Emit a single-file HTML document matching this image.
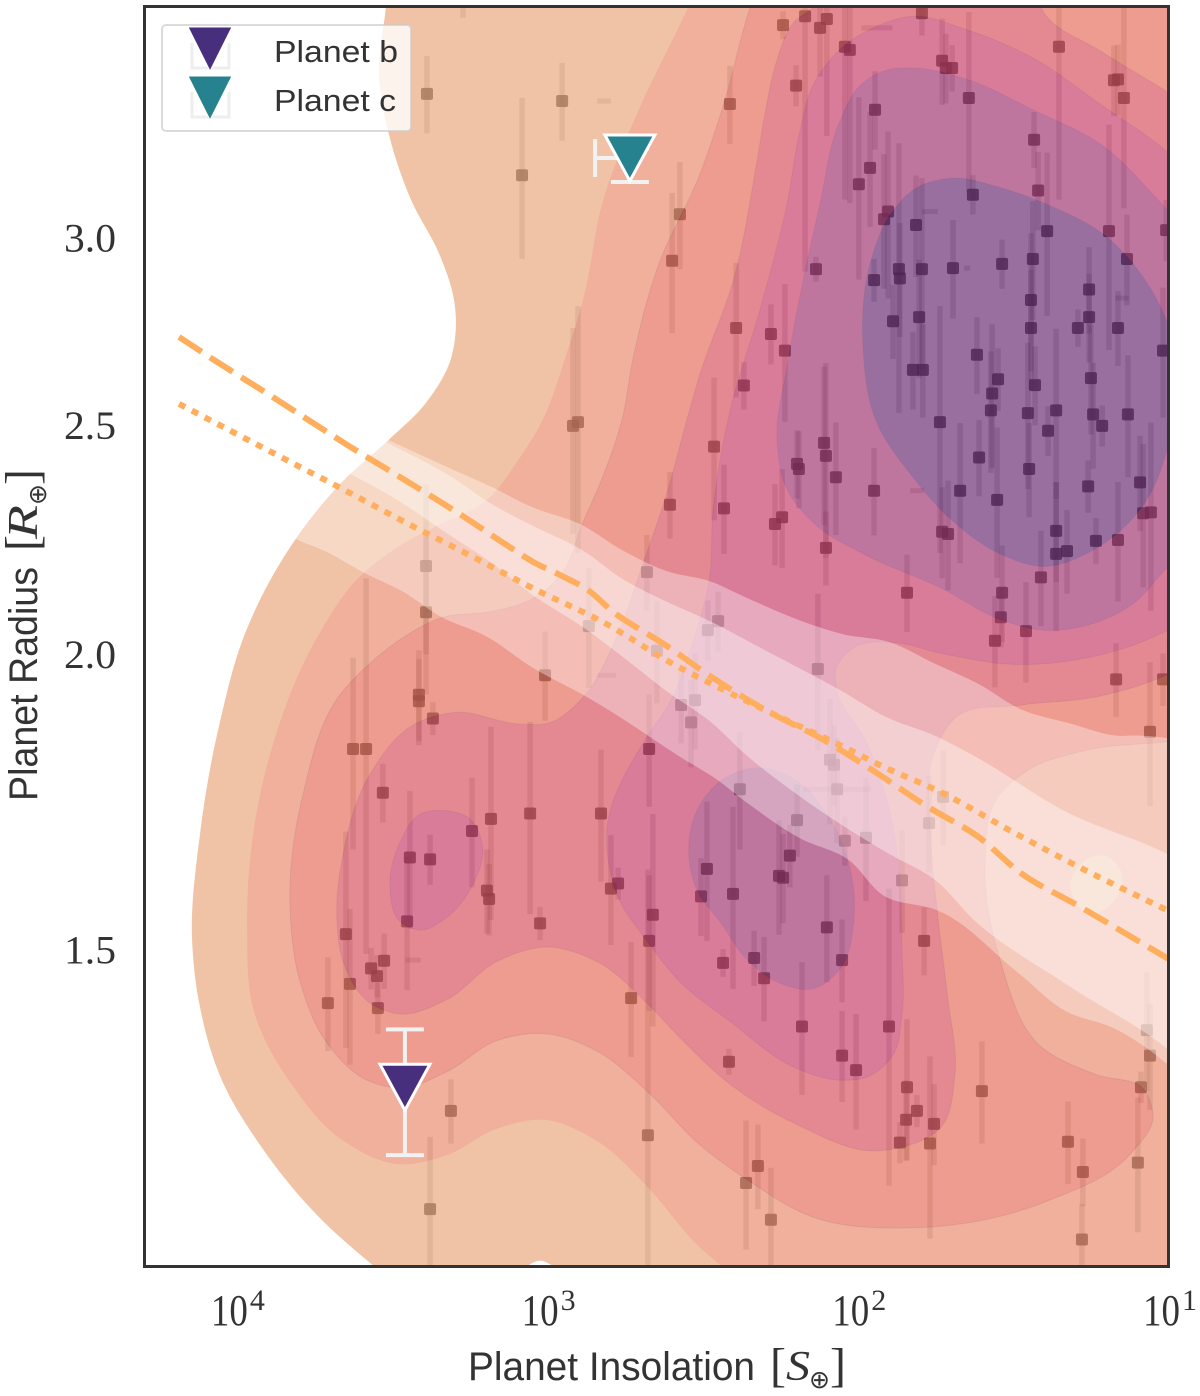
<!DOCTYPE html>
<html lang="en">
<head>
<meta charset="utf-8">
<title>Planet radius vs insolation</title>
<style>
html,body{margin:0;padding:0;background:#fff;width:1200px;height:1396px;overflow:hidden;}
svg{display:block;}
text{fill:#333;}
.sans{font-family:"Liberation Sans",sans-serif;}
.serif{font-family:"Liberation Serif",serif;}
</style>
</head>
<body>
<svg id="chart" width="1200" height="1396" viewBox="0 0 1200 1396" xmlns="http://www.w3.org/2000/svg">
  <defs>
    <clipPath id="plot-clip"><rect x="144" y="6" width="1025" height="1261"></rect></clipPath>
  </defs>
  <g id="plot" clip-path="url(#plot-clip)">
    <g id="samples"></g>
    <g id="density" opacity="0.7"></g>
    <g id="notches"></g>
    <g id="bands"></g>
    <g id="lines"></g>
    <g id="planets"></g>
  </g>
  <rect x="144.5" y="6.5" width="1024" height="1260" fill="none" stroke="#333" stroke-width="3"></rect>
  <g id="xticks"></g>
  <g id="yticks"></g>

  <g>
    <text class="sans" x="468" y="1380" font-size="40" textLength="287" lengthAdjust="spacingAndGlyphs">Planet Insolation</text>
    <text class="serif" x="770" y="1381" font-size="48">[</text>
    <text class="serif" x="786" y="1380" font-size="42" font-style="italic" textLength="24" lengthAdjust="spacingAndGlyphs">S</text>
    <text x="809" y="1388" font-size="25" font-family="'DejaVu Sans',sans-serif">⊕</text>
    <text class="serif" x="830" y="1381" font-size="48">]</text>
  </g>
  <g transform="translate(37,801) rotate(-90)">
    <text class="sans" x="0" y="0" font-size="40" textLength="234" lengthAdjust="spacingAndGlyphs">Planet Radius</text>
    <text class="serif" x="250" y="1" font-size="48">[</text>
    <text class="serif" x="262" y="0" font-size="42" font-style="italic" textLength="34" lengthAdjust="spacingAndGlyphs">R</text>
    <text x="296" y="9" font-size="25" font-family="'DejaVu Sans',sans-serif">⊕</text>
    <text class="serif" x="316" y="1" font-size="48">]</text>
  </g>

  <g>
    <rect x="162" y="25" width="249" height="106" rx="4" fill="#fff" fill-opacity="0.8" stroke="#ccc" stroke-opacity="0.7" stroke-width="2"></rect>
    <g>
      <path d="M192 43V68H229V43" fill="none" stroke="#eee" stroke-width="3"></path>
      <polygon points="188,27 232,27 210,71" fill="#472f7d" stroke="#fff" stroke-width="1"></polygon>
      <text class="sans" x="274" y="62" font-size="31" textLength="124" lengthAdjust="spacingAndGlyphs">Planet b</text>
    </g>
    <g>
      <path d="M192 92V117H229V92" fill="none" stroke="#eee" stroke-width="3"></path>
      <polygon points="188,76 232,76 210,120" fill="#26828e" stroke="#fff" stroke-width="1"></polygon>
      <text class="sans" x="274" y="111" font-size="31" textLength="122" lengthAdjust="spacingAndGlyphs">Planet c</text>
    </g>
  </g>
</svg>

<script>
// ---- tick labels ----
const xTickExponents = [4, 3, 2, 1];
const yTickValues = [1.5, 2.0, 2.5, 3.0];

// ---- sample planets: [log10 insolation, radius, radius error] ----
const samplePlanets = [
[2.239,3.693,.05],[2.168,3.725,.82],[2.120,3.683,.17],[2.098,3.715,.40],[2.040,3.616,.50],[2.024,3.605,.50],
[1.792,3.736,.08],[1.727,3.567,.15],[1.695,3.542,.08],[1.715,3.542,.12],[1.351,3.616,.50],[1.174,3.500,.12],
[1.161,3.503,.12],[1.142,3.440,.35],[2.410,3.42,.13],[2.197,3.482,.07],[1.943,3.401,.13],[1.641,3.44,.30],
[1.431,3.303,.09],[1.418,3.144,.12],[1.959,3.214,.18],[1.995,3.163,.28],[1.901,3.08,.25],[1.914,3.057,.20],
[1.628,3.131,.06],[1.811,3.04,.15],[1.389,3.022,.24],[1.190,3.022,.33],[1.006,3.025,.09],[1.866,2.912,.38],
[1.863,2.886,.16],[1.792,2.912,.27],[1.692,2.915,.14],[1.534,2.927,.07],[1.435,2.941,.17],[1.132,2.941,.13],
[1.946,2.881,.06],[2.133,2.912,.035],[1.254,2.855,.12],[1.441,2.826,.19],[1.885,2.768,.10],[1.801,2.779,.16],
[2.390,2.75,.18],[2.278,2.734,.08],[2.233,2.690,.18],[2.365,2.60,.06],[1.441,2.75,.16],[1.290,2.75,.05],
[1.254,2.779,.12],[1.161,2.75,.10],[1.016,2.690,.17],[1.615,2.679,.10],[1.821,2.64,.10],[1.789,2.64,.12],
[1.547,2.616,.08],[1.248,2.619,.14],[1.428,2.601,.10],[1.566,2.58,.18],[1.570,2.538,.15],[1.451,2.531,.18],
[1.360,2.538,.21],[1.241,2.528,.13],[1.129,2.528,.15],[1.212,2.5,.05],[1.386,2.488,.06],[1.734,2.509,.30],
[2.461,2.45,.17],[2.107,2.459,.19],[2.101,2.428,.23],[2.069,2.378,.13],[2.194,2.409,.08],[2.188,2.397,.09],
[1.608,2.424,.09],[1.447,2.397,.11],[1.257,2.357,.06],[1.090,2.366,.11],[1.946,2.347,.10],[2.429,2.307,.10],
[1.669,2.347,.16],[1.550,2.326,.17],[2.242,2.287,.11],[2.265,2.272,.09],[1.080,2.296,.16],[1.055,2.298,.21],
[1.727,2.255,.10],[1.708,2.250,.12],[2.101,2.220,.08],[1.360,2.257,.11],[1.360,2.207,.16],[1.325,2.213,.09],
[1.232,2.235,.05],[1.161,2.237,.13],[1.409,2.157,.10],[1.840,2.125,.08],[1.534,2.125,.10],[1.538,2.075,.06],
[1.457,2.047,.10],[1.557,2.028,.09],[1.167,1.953,.07],[1.016,1.953,.05],[1.058,1.856,.13],[2.127,1.973,.15],
[2.481,2.049,.06],[2.448,2.067,.06],[2.522,1.914,.09],[2.567,1.905,.07],[2.535,1.873,.08],[2.088,1.806,.11],
[2.075,1.797,.07],[2.065,1.755,.09],[2.378,1.755,.10],[2.194,1.703,.06],[1.769,1.698,.08],[1.724,1.742,.08],
[2.040,1.669,.04],[1.972,1.674,.10],[1.856,1.606,.08],[2.217,1.645,.05],[2.484,1.624,.11],[2.503,1.581,.06],
[2.400,1.585,.14],[2.252,1.613,.09],[2.239,1.610,.07],[2.098,1.534,.08],[1.785,1.514,.05],[2.332,1.489,.04],
[2.432,1.482,.02],[2.049,1.486,.06],[2.300,1.460,.06],[2.178,1.393,.09],[1.898,1.393,.20],[2.413,1.346,.017],
[2.049,1.354,.06],[2.004,1.335,.075],[1.840,1.313,.09],[1.599,1.308,.065],[1.808,1.283,.02],[1.843,1.272,.05],
[1.753,1.267,.05],[1.863,1.244,.025],[1.766,1.243,.11],[1.068,1.388,.08],[1.058,1.354,.07],[1.087,1.313,.02],
[1.322,1.245,.05],[1.274,1.209,.04],[1.097,1.220,.08],[2.320,1.216,.05],[2.358,1.196,.075],[2.278,1.154,.06],
[1.277,1.132,.04],[3.411,1.924,.085],[3.411,1.912,.08],[3.366,1.880,.03],[3.623,1.825,.17],[3.581,1.825,.33],
[3.527,1.749,.05],[3.179,1.705,.16],[3.053,1.714,.16],[2.825,1.714,.11],[3.240,1.685,.09],[3.440,1.642,.11],
[3.375,1.639,.04],[3.449,1.543,.10],[3.192,1.590,.065],[3.185,1.577,.055],[3.021,1.540,.025],[2.793,1.593,.085],
[2.770,1.601,.025],[2.670,1.825,.10],[2.658,1.553,.16],[2.670,1.514,.10],[2.728,1.432,.08],[3.646,1.524,.16],
[3.633,1.452,.11],[3.565,1.474,.03],[3.546,1.463,.03],[3.523,1.485,.04],[3.704,1.425,.065],[3.543,1.418,.035],
[3.005,1.961,.085],[3.308,1.283,.04],[3.375,1.166,.085],[2.674,1.253,.37],[3.385,3.454,.13],[2.950,3.430,.13],
[3.079,3.191,.25],[2.571,3.072,.16],[2.596,2.936,.20],[2.899,2.509,.30],[2.915,2.5,.25],[3.269,3.80,.08],
[3.388,2.181,.18],[3.388,2.085,.16],[2.603,2.315,.075],[2.677,2.168,.08],[2.864,2.057,.12],[2.645,2.008,.10]
];

// ---- detached insolation error bars: [log10 insolation, radius, insolation error in dex] ----
const sampleInsolationBars = [[2.815,3.430,.022],[1.937,3.683,.05],[1.766,3.08,.025],[1.148,2.831,.022],[1.647,2.915,.01],[1.808,2.347,.022],[2.065,1.755,.11],[2.806,1.961,.03],[3.430,1.486,.025]];

// ---- density contours: [log10 insolation, radius] ----
const densityLevel1 = [[3.510,3.859],[3.517,3.764],[3.539,3.514],[3.504,3.306],[3.436,3.115],[3.343,2.950],[3.298,2.826],[3.292,2.774],[3.308,2.669],[3.388,2.557],[3.504,2.469],[3.665,2.362],[3.807,2.240],[3.977,2.032],[4.051,1.875],[4.116,1.679],[4.141,1.514],[4.116,1.420],[4.042,1.319],[3.922,1.241],[3.752,1.164],[3.552,1.102],[3.343,1.05],[.897,1.04],[.897,3.859]];
const densityLevel2 = [[2.506,3.859],[2.545,3.757],[2.699,3.411],[2.815,3.125],[2.883,2.826],[2.941,2.669],[3.012,2.516],[3.095,2.414],[3.192,2.326],[3.353,2.268],[3.488,2.218],[3.610,2.153],[3.729,2.045],[3.881,1.833],[3.964,1.537],[3.939,1.409],[3.816,1.314],[3.665,1.249],[3.472,1.218],[3.321,1.229],[3.160,1.261],[3.012,1.272],[2.838,1.246],[2.677,1.192],[2.506,1.123],[2.400,1.094],[.897,1.04],[.897,3.859]];
const densityPocket = [[1.315,1.600],[1.267,1.637],[1.203,1.645],[1.148,1.616],[1.171,1.575],[1.251,1.553]];
const densityLevel3 = [[2.313,3.859],[2.345,3.757],[2.426,3.433],[2.506,3.195],[2.641,2.921],[2.722,2.669],[2.757,2.516],[2.818,2.381],[2.883,2.276],[2.957,2.160],[3.053,2.110],[3.182,2.086],[3.333,2.075],[3.472,2.030],[3.568,1.984],[3.665,1.924],[3.784,1.746],[3.826,1.568],[3.794,1.456],[3.707,1.371],[3.578,1.322],[3.472,1.312],[3.321,1.333],[3.160,1.374],[2.999,1.383],[2.838,1.360],[2.677,1.308],[2.506,1.241],[2.355,1.200],[2.143,1.157],[1.821,1.145],[1.389,1.175],[1.122,1.230],[1.048,1.275],[1.080,1.311],[1.229,1.329],[1.412,1.367],[1.541,1.487],[1.589,1.626],[1.550,1.740],[1.444,1.790],[1.286,1.820],[.994,1.838],[.897,1.842],[.897,3.859]];
const densityLevel4 = [[2.088,3.859],[2.136,3.764],[2.207,3.700],[2.258,3.570],[2.297,3.388],[2.323,3.233],[2.400,2.877],[2.506,2.630],[2.548,2.516],[2.612,2.343],[2.690,2.186],[2.796,2.006],[2.870,1.928],[2.999,1.871],[3.086,1.870],[3.301,1.891],[3.430,1.868],[3.568,1.781],[3.655,1.647],[3.675,1.549],[3.655,1.484],[3.568,1.425],[3.472,1.410],[3.321,1.430],[3.160,1.484],[2.999,1.505],[2.838,1.484],[2.677,1.425],[2.571,1.378],[2.410,1.317],[2.194,1.266],[1.937,1.234],[1.724,1.266],[1.686,1.329],[1.711,1.439],[1.743,1.560],[1.766,1.693],[1.756,1.813],[1.679,1.884],[1.470,1.905],[1.232,1.920],[.994,1.965],[.897,1.992],[.897,3.401],[1.003,3.461],[1.219,3.602],[1.396,3.732],[1.444,3.859]];
const densityLevel5 = [[2.056,3.606],[1.949,3.683],[1.821,3.725],[1.647,3.676],[1.435,3.577],[1.219,3.420],[1.003,3.264],[.897,3.179],[.897,2.081],[.994,2.051],[1.283,1.992],[1.502,1.982],[1.721,2.002],[1.895,2.025],[2.007,2.016],[2.069,1.973],[2.065,1.932],[1.969,1.836],[1.885,1.693],[1.856,1.499],[1.856,1.410],[1.885,1.355],[1.969,1.326],[2.056,1.322],[2.194,1.337],[2.410,1.400],[2.571,1.455],[2.677,1.514],[2.764,1.574],[2.806,1.685],[2.677,1.847],[2.612,1.901],[2.526,2.032],[2.477,2.149],[2.464,2.304],[2.410,2.535],[2.313,2.800],[2.226,3.103],[2.184,3.334],[2.143,3.482]];
const densityLevel5Lobe = [[3.504,1.600],[3.472,1.666],[3.407,1.713],[3.333,1.719],[3.247,1.705],[3.205,1.653],[3.237,1.600],[3.321,1.549],[3.407,1.530],[3.472,1.543]];
const densityLevel6 = [[2.258,2.466],[2.226,2.649],[2.175,2.877],[2.120,3.103],[2.056,3.363],[1.991,3.482],[1.904,3.535],[1.821,3.542],[1.647,3.503],[1.435,3.401],[1.219,3.290],[1.003,3.086],[.897,3.000],[.897,2.229],[1.003,2.177],[1.113,2.102],[1.219,2.067],[1.402,2.049],[1.541,2.071],[1.734,2.136],[1.969,2.203],[2.130,2.268],[2.226,2.350]];
const densityLevel6Lobe = [[2.542,1.645],[2.516,1.719],[2.432,1.772],[2.313,1.792],[2.194,1.769],[2.098,1.713],[2.024,1.626],[2.011,1.547],[2.056,1.473],[2.143,1.445],[2.249,1.453],[2.355,1.487],[2.439,1.541],[2.516,1.591]];
const densityLevel7 = [[1.982,2.703],[1.959,2.927],[1.895,3.069],[1.808,3.153],[1.692,3.182],[1.541,3.153],[1.380,3.098],[1.219,3.020],[1.080,2.890],[.987,2.724],[.987,2.495],[1.090,2.304],[1.219,2.224],[1.402,2.180],[1.541,2.207],[1.692,2.278],[1.821,2.378],[1.937,2.507]];
const densityNotch = [[3.079,1.097],[3.021,1.109],[2.963,1.097],[3.021,1.09]];

// ---- radius valley uncertainty bands: [log10 insolation, radius] ----
const valleyBandOuter = [[3.858,2.577],[3.520,2.469],[3.321,2.402],[3.182,2.357],[3.044,2.309],[2.893,2.272],[2.754,2.214],[2.612,2.170],[2.474,2.149],[2.361,2.116],[2.178,2.067],[2.046,2.041],[1.895,2.025],[1.753,1.984],[1.612,1.945],[1.470,1.896],[1.309,1.870],[1.167,1.849],[1.090,1.849],[.897,1.834],[.897,1.309],[1.0,1.342],[1.177,1.391],[1.325,1.413],[1.483,1.468],[1.743,1.560],[1.911,1.581],[2.033,1.640],[2.184,1.673],[2.355,1.732],[2.464,1.776],[2.561,1.808],[2.612,1.826],[2.754,1.879],[2.883,1.924],[3.044,1.975],[3.192,2.036],[3.343,2.077],[3.462,2.127],[3.591,2.168],[3.707,2.211],[3.810,2.240],[3.955,2.294]];
const valleyBandInner = [[3.794,2.564],[3.520,2.462],[3.311,2.381],[3.173,2.315],[3.044,2.268],[2.883,2.214],[2.754,2.153],[2.612,2.106],[2.474,2.067],[2.287,2.006],[2.059,1.934],[1.904,1.882],[1.743,1.847],[1.615,1.810],[1.325,1.716],[1.0,1.647],[.897,1.624],[.897,1.330],[1.0,1.362],[1.315,1.448],[1.615,1.541],[1.756,1.609],[1.895,1.647],[2.056,1.697],[2.217,1.755],[2.355,1.813],[2.474,1.875],[2.612,1.930],[2.754,1.996],[2.883,2.055],[3.044,2.120],[3.182,2.190],[3.333,2.257],[3.481,2.326],[3.633,2.386],[3.826,2.457]];

// ---- radius valley lines: [log10 insolation, radius] ----
const valleyDashed = [[4.183,2.726],[4.071,2.666],[3.877,2.569],[3.762,2.512],[3.633,2.450],[3.462,2.374],[3.288,2.298],[3.124,2.224],[3.044,2.190],[2.950,2.160],[2.870,2.132],[2.786,2.086],[2.619,2.020],[2.455,1.952],[2.287,1.893],[2.114,1.843],[1.949,1.787],[1.776,1.726],[1.612,1.676],[1.470,1.616],[1.290,1.567],[1.0,1.488]];
const valleyDotted = [[4.183,2.554],[3.826,2.414],[3.655,2.350],[3.433,2.268],[3.256,2.207],[3.037,2.132],[2.818,2.065],[2.603,1.986],[2.313,1.900],[2.030,1.825],[1.940,1.800],[1.724,1.748],[1.502,1.684],[1.283,1.626],[1.003,1.560]];

// ---- highlighted planets ----
const planetNames = ["b", "c"];
const planetLogInsolation = [3.456, 2.732];
const planetLogInsolationErr = [0, 0.112];
const planetRadius = [1.313, 3.245];
const planetRadiusErrLow = [0.084, 0.075];
const planetRadiusErrHigh = [0.076, 0.03];
const planetColors = ["#472f7d", "#26828e"];

// ---- axis functions ----
function xOf(logS) { return 1168 - (logS - 1) * 310.7; }
function yOf(radius) { return 655 - 1027 * Math.log(radius / 2); }
function clampY(y) { return Math.max(-10, Math.min(1280, y)); }

const NS = "http://www.w3.org/2000/svg";
function make(tag, parent) {
  const el = document.createElementNS(NS, tag);
  parent.appendChild(el);
  return el;
}
function toPixels(series) {
  return series.map(function (p) { return [Math.min(1195, xOf(p[0])), yOf(p[1])]; });
}
function tangentPath(pts, closed) {
  const n = pts.length;
  function at(i) { return closed ? pts[(i + n) % n] : pts[Math.max(0, Math.min(n - 1, i))]; }
  function ctrl(i) {
    const a = at(i - 1), b = at(i), c = at(i + 1);
    const d1 = Math.hypot(b[0] - a[0], b[1] - a[1]) || 1;
    const d2 = Math.hypot(c[0] - b[0], c[1] - b[1]) || 1;
    const tx = ((b[0] - a[0]) / d1 * d2 + (c[0] - b[0]) / d2 * d1) / (d1 + d2);
    const ty = ((b[1] - a[1]) / d1 * d2 + (c[1] - b[1]) / d2 * d1) / (d1 + d2);
    return { inX: b[0] - tx * d1 / 3, inY: b[1] - ty * d1 / 3, outX: b[0] + tx * d2 / 3, outY: b[1] + ty * d2 / 3 };
  }
  let d = "M" + pts[0][0].toFixed(1) + " " + pts[0][1].toFixed(1);
  const segs = closed ? n : n - 1;
  for (let i = 0; i < segs; i++) {
    const c1 = ctrl(i), c2 = ctrl(i + 1), e = at(i + 1);
    d += "C" + c1.outX.toFixed(1) + " " + c1.outY.toFixed(1) + " " + c2.inX.toFixed(1) + " " + c2.inY.toFixed(1) + " " + e[0].toFixed(1) + " " + e[1].toFixed(1);
  }
  return d + (closed ? "Z" : "");
}

// ---- sample planets ----
const samplesGroup = document.getElementById("samples");
samplePlanets.forEach(function (s) {
  const x = xOf(s[0]);
  const bar = make("line", samplesGroup);
  
  
  bar.setAttribute("x1", x);
  bar.setAttribute("x2", x);
  bar.setAttribute("y1", clampY(yOf(s[1] + s[2])));
  bar.setAttribute("y2", clampY(yOf(s[1] - s[2])));
  bar.setAttribute("stroke", "#000");
  bar.setAttribute("stroke-opacity", "0.19");
  bar.setAttribute("stroke-width", "5.5");
});
sampleInsolationBars.forEach(function (s) {
  const y = yOf(s[1]);
  const bar = make("line", samplesGroup);
  
  
  bar.setAttribute("x1", xOf(s[0] + s[2]));
  bar.setAttribute("x2", xOf(s[0] - s[2]));
  bar.setAttribute("y1", y);
  bar.setAttribute("y2", y);
  bar.setAttribute("stroke", "#000");
  bar.setAttribute("stroke-opacity", "0.19");
  bar.setAttribute("stroke-width", "5");
});
samplePlanets.forEach(function (s) {
  const mark = make("rect", samplesGroup);
  
  
  mark.setAttribute("x", xOf(s[0]) - 6);
  mark.setAttribute("y", yOf(s[1]) - 6);
  mark.setAttribute("width", "12");
  mark.setAttribute("height", "12");
  mark.setAttribute("rx", "2");
  mark.setAttribute("fill", "#000");
  mark.setAttribute("fill-opacity", "0.8");
});

// ---- density ----
const densityGroup = document.getElementById("density");
const densityLayers = [densityLevel1, densityLevel2, densityPocket, densityLevel3, densityLevel4, densityLevel5, densityLevel5Lobe, densityLevel6, densityLevel6Lobe, densityLevel7];
const densityFills = ["rgb(236,171,129)", "rgb(234,144,114)", "rgb(236,171,129)", "rgb(231,115,96)", "rgb(218,88,99)", "rgb(201,69,112)", "rgb(201,69,112)", "rgb(165,61,118)", "rgb(165,61,118)", "rgb(111,51,119)"];
densityLayers.forEach(function (layer, i) {
  const path = make("path", densityGroup);
  
  
  path.setAttribute("d", tangentPath(toPixels(layer), true));
  path.setAttribute("fill", densityFills[i]);
  if (i >= 3) {
    path.setAttribute("stroke", "rgba(70,20,70,0.14)");
    path.setAttribute("stroke-width", "1");
  }
});
const notch = make("path", document.getElementById("notches"));


notch.setAttribute("d", tangentPath(toPixels(densityNotch), true));
notch.setAttribute("fill", "#fff");

// ---- bands ----
const bandsGroup = document.getElementById("bands");
const outerBand = make("path", bandsGroup);


outerBand.setAttribute("d", tangentPath(toPixels(valleyBandOuter), true));
outerBand.setAttribute("fill", "#fff");
outerBand.setAttribute("fill-opacity", "0.35");
const innerBand = make("path", bandsGroup);


innerBand.setAttribute("d", tangentPath(toPixels(valleyBandInner), true));
innerBand.setAttribute("fill", "#fff");
innerBand.setAttribute("fill-opacity", "0.385");

// ---- lines ----
const linesGroup = document.getElementById("lines");
const dashedLine = make("path", linesGroup);


dashedLine.setAttribute("d", tangentPath(toPixels(valleyDashed), false));
dashedLine.setAttribute("fill", "none");
dashedLine.setAttribute("stroke", "#ffae5e");
dashedLine.setAttribute("stroke-width", "6");
dashedLine.setAttribute("stroke-dasharray", "27 10");
const dottedLine = make("path", linesGroup);


dottedLine.setAttribute("d", tangentPath(toPixels(valleyDotted), false));
dottedLine.setAttribute("fill", "none");
dottedLine.setAttribute("stroke", "#ffae5e");
dottedLine.setAttribute("stroke-width", "6");
dottedLine.setAttribute("stroke-dasharray", "7 7.5");

// ---- highlighted planets ----
const planetsGroup = document.getElementById("planets");
planetNames.forEach(function (name, i) {
  const cx = xOf(planetLogInsolation[i]);
  const cy = yOf(planetRadius[i]);
  const top = yOf(planetRadius[i] + planetRadiusErrHigh[i]);
  const bottom = yOf(planetRadius[i] - planetRadiusErrLow[i]);
  const left = xOf(planetLogInsolation[i] + planetLogInsolationErr[i]);
  let d = "M" + cx + " " + top + "V" + bottom;
  d += "M" + (cx - 19) + " " + top + "H" + (cx + 19);
  d += "M" + (cx - 19) + " " + bottom + "H" + (cx + 19);
  if (planetLogInsolationErr[i] > 0) {
    d += "M" + left + " " + cy + "H" + cx;
    d += "M" + left + " " + (cy - 19) + "V" + (cy + 19);
  }
  const err = make("path", planetsGroup);
  
  
  err.setAttribute("d", d);
  err.setAttribute("fill", "none");
  err.setAttribute("stroke", "#f2f2f2");
  err.setAttribute("stroke-width", "4");
  const tri = make("polygon", planetsGroup);
  
  
  tri.setAttribute("points", (cx - 25) + "," + (cy - 23) + " " + (cx + 25) + "," + (cy - 23) + " " + cx + "," + (cy + 23));
  tri.setAttribute("fill", planetColors[i]);
  tri.setAttribute("stroke", "#fff");
  tri.setAttribute("stroke-width", "3");
});

// ---- ticks ----
const xTicksGroup = document.getElementById("xticks");
xTickExponents.forEach(function (exp) {
  const x = xOf(exp);
  const base = make("text", xTicksGroup);
  
  
  base.setAttribute("class", "serif");
  base.setAttribute("x", x - 25);
  base.setAttribute("y", 1325);
  base.setAttribute("font-size", "44");
  base.setAttribute("textLength", "37");
  base.setAttribute("lengthAdjust", "spacingAndGlyphs");
  base.textContent = "10";
  const sup = make("text", xTicksGroup);
  
  
  sup.setAttribute("class", "serif");
  sup.setAttribute("x", x + 14);
  sup.setAttribute("y", 1310);
  sup.setAttribute("font-size", "30");
  sup.textContent = String(exp);
});
const yTicksGroup = document.getElementById("yticks");
yTickValues.forEach(function (value) {
  const label = make("text", yTicksGroup);
  
  
  label.setAttribute("class", "serif");
  label.setAttribute("x", 64);
  label.setAttribute("y", yOf(value) + 13);
  label.setAttribute("font-size", "40");
  label.setAttribute("textLength", "52");
  label.setAttribute("lengthAdjust", "spacingAndGlyphs");
  label.textContent = value.toFixed(1);
});
</script>
</body>
</html>
